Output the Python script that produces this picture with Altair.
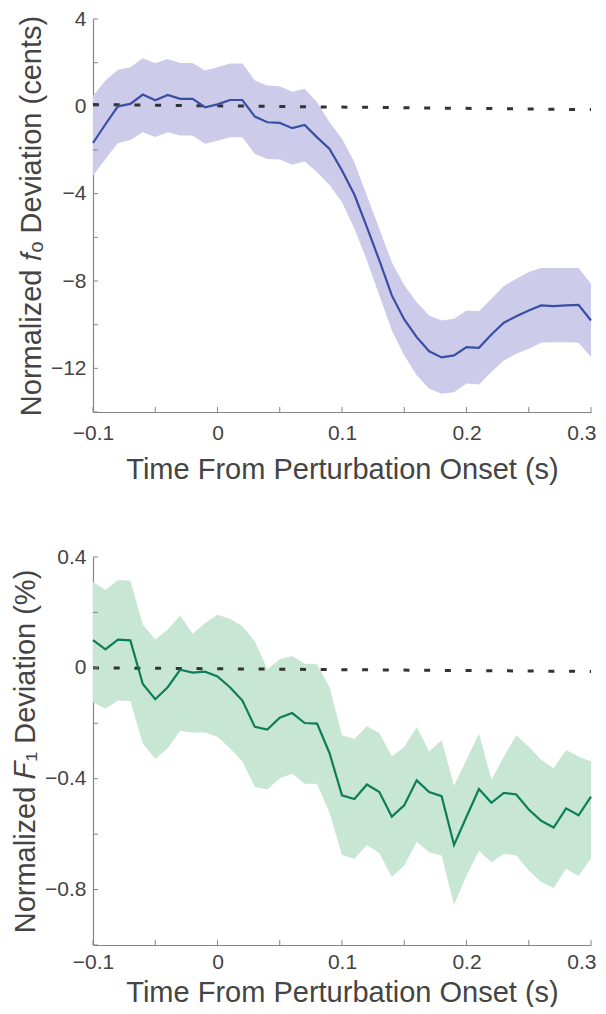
import altair as alt
import pandas as pd

# ---------------- data ----------------
time_s = [-0.10, -0.09, -0.08, -0.07, -0.06, -0.05, -0.04, -0.03, -0.02, -0.01,
          0.00, 0.01, 0.02, 0.03, 0.04, 0.05, 0.06, 0.07, 0.08, 0.09,
          0.10, 0.11, 0.12, 0.13, 0.14, 0.15, 0.16, 0.17, 0.18, 0.19,
          0.20, 0.21, 0.22, 0.23, 0.24, 0.25, 0.26, 0.27, 0.28, 0.29, 0.30]

f0_mean = [-1.68, -0.82, 0.00, 0.11, 0.54, 0.28, 0.52, 0.34, 0.34, -0.04,
           0.09, 0.29, 0.29, -0.47, -0.73, -0.76, -1.00, -0.85, -1.42, -1.95,
           -2.94, -4.05, -5.53, -7.06, -8.66, -9.76, -10.57, -11.22, -11.50, -11.41,
           -11.03, -11.06, -10.45, -9.91, -9.61, -9.35, -9.12, -9.15, -9.12, -9.09, -9.81]
f0_upper = [0.49, 1.18, 1.67, 1.79, 2.20, 1.97, 2.17, 1.99, 1.99, 1.64,
            1.79, 1.96, 1.96, 1.18, 0.95, 0.92, 0.67, 0.80, 0.19, -0.73,
            -1.49, -2.56, -4.09, -5.61, -7.14, -8.20, -8.97, -9.58, -9.81, -9.73,
            -9.35, -9.39, -8.81, -8.23, -7.90, -7.59, -7.41, -7.41, -7.41, -7.41, -8.13]
f0_lower = [-3.17, -2.41, -1.68, -1.54, -1.19, -1.40, -1.19, -1.34, -1.34, -1.71,
            -1.58, -1.42, -1.42, -2.18, -2.41, -2.44, -2.68, -2.53, -3.02, -3.60,
            -4.39, -5.61, -7.06, -8.66, -10.26, -11.41, -12.32, -12.93, -13.16, -13.09,
            -12.70, -12.74, -12.17, -11.64, -11.33, -11.10, -10.83, -10.80, -10.80, -10.83, -11.48]

f1_mean = [0.100, 0.067, 0.102, 0.099, -0.058, -0.113, -0.070, -0.007, -0.017, -0.014,
           -0.031, -0.070, -0.118, -0.213, -0.223, -0.180, -0.163, -0.199, -0.201, -0.308,
           -0.460, -0.473, -0.421, -0.448, -0.537, -0.496, -0.406, -0.448, -0.463, -0.639,
           -0.537, -0.437, -0.487, -0.451, -0.457, -0.511, -0.552, -0.576, -0.507, -0.532, -0.465]
f1_upper = [0.311, 0.281, 0.317, 0.314, 0.156, 0.102, 0.138, 0.189, 0.123, 0.162,
            0.192, 0.177, 0.150, 0.096, -0.005, 0.031, 0.043, 0.015, 0.013, -0.070,
            -0.243, -0.257, -0.211, -0.235, -0.320, -0.285, -0.213, -0.302, -0.261, -0.425,
            -0.332, -0.237, -0.404, -0.320, -0.243, -0.285, -0.332, -0.362, -0.296, -0.320, -0.338]
f1_lower = [-0.124, -0.148, -0.118, -0.120, -0.273, -0.329, -0.290, -0.227, -0.233, -0.233,
            -0.249, -0.290, -0.338, -0.430, -0.439, -0.398, -0.382, -0.418, -0.419, -0.523,
            -0.675, -0.689, -0.639, -0.668, -0.755, -0.713, -0.627, -0.665, -0.677, -0.856,
            -0.749, -0.660, -0.701, -0.671, -0.677, -0.731, -0.773, -0.794, -0.725, -0.751, -0.687]

baseline_t = [-0.10, 0.30]
f0_baseline = [0.08, -0.15]
f1_baseline = [0.0, -0.013]

x_labels = [-0.1, 0, 0.1, 0.2, 0.3]
x_ticks = [-0.1, -0.05, 0, 0.05, 0.1, 0.15, 0.2, 0.25, 0.3]
f0_labels = [4, 0, -4, -8, -12]
f0_ticks = [4, 2, 0, -2, -4, -6, -8, -10, -12, -14]
f1_labels = [0.4, 0, -0.4, -0.8]
f1_ticks = [0.4, 0.2, 0, -0.2, -0.4, -0.6, -0.8, -1.0]

X_TITLE = "Time From Perturbation Onset (s)"

# ---------------- styling ----------------
FONT = "Liberation Sans"
TEXT = "#444444"
AXIS = "#858585"
W = 498


def panel(mean, upper, lower, base, ylabels, yticks, ydomain, yfmt, ytitle,
          line_color, band_color, H, x_label_pad, x_title_pad):
    df = pd.DataFrame({"t": time_s, "m": mean, "hi": upper, "lo": lower})
    bdf = pd.DataFrame({"t": baseline_t, "m": base})
    xt = pd.DataFrame({"t": x_ticks})
    yt = pd.DataFrame({"m": yticks})

    xs = alt.Scale(domain=[-0.1, 0.3], nice=False, zero=False)
    ys = alt.Scale(domain=ydomain, nice=False, zero=False)

    common = dict(ticks=False, grid=False, labelFlush=False,
                  labelFontSize=21, titleFontSize=29, titleFontWeight="normal",
                  domainColor=AXIS, domainWidth=1.2, labelColor=TEXT,
                  titleColor=TEXT, labelFont=FONT, titleFont=FONT)
    x_axis = alt.Axis(
        values=x_labels, format="~g", labelPadding=x_label_pad,
        titlePadding=x_title_pad,
        labelAlign={"condition": {"test": "datum.value > 0.25", "value": "right"},
                    "value": "center"},
        labelOffset={"condition": {"test": "datum.value > 0.25", "value": 5},
                     "value": 0},
        **common)
    y_axis = alt.Axis(values=ylabels, format=yfmt, labelPadding=7,
                      titlePadding=4, **common)

    X = alt.X("t:Q", scale=xs, axis=x_axis, title=X_TITLE)
    Y = alt.Y("m:Q", scale=ys, axis=y_axis, title=ytitle)

    band = alt.Chart(df).mark_area(color=band_color, opacity=1).encode(
        x=X, y=alt.Y("lo:Q", scale=ys, axis=y_axis, title=ytitle), y2="hi:Q",
    )
    line = alt.Chart(df).mark_line(color=line_color, strokeWidth=2.2).encode(x=X, y=Y)
    dash = alt.Chart(bdf).mark_line(color="#333333", strokeWidth=3,
                                    strokeDash=[6, 14.7]).encode(x=X, y=Y)
    xtick = alt.Chart(xt).mark_rule(color=AXIS, strokeWidth=1).encode(
        x=X, y=alt.value(H), y2=alt.value(H - 5),
    )
    ytick = alt.Chart(yt).mark_rule(color=AXIS, strokeWidth=1).encode(
        y=Y, x=alt.value(0), x2=alt.value(5),
    )
    return alt.layer(band, dash, line, xtick, ytick).properties(width=W, height=H)


top = panel(f0_mean, f0_upper, f0_lower, f0_baseline, f0_labels, f0_ticks,
            [-14, 4], "d", "Normalized 𝑓ₒ Deviation (cents)", "#3a4ea3", "#cccbe9",
            393, 10, 12)
bottom = panel(f1_mean, f1_upper, f1_lower, f1_baseline, f1_labels, f1_ticks,
               [-1.0, 0.4], "~g", "Normalized 𝐹₁ Deviation (%)", "#0d7d5b", "#c8e6d4",
               388, 6, 6)

chart = alt.vconcat(
    top, bottom, spacing=145, bounds="flush",
    padding={"left": 3, "top": 0, "right": 0, "bottom": 0},
).configure_view(stroke=None)

chart.save("out.html", embed_options={"renderer": "svg", "actions": False})
